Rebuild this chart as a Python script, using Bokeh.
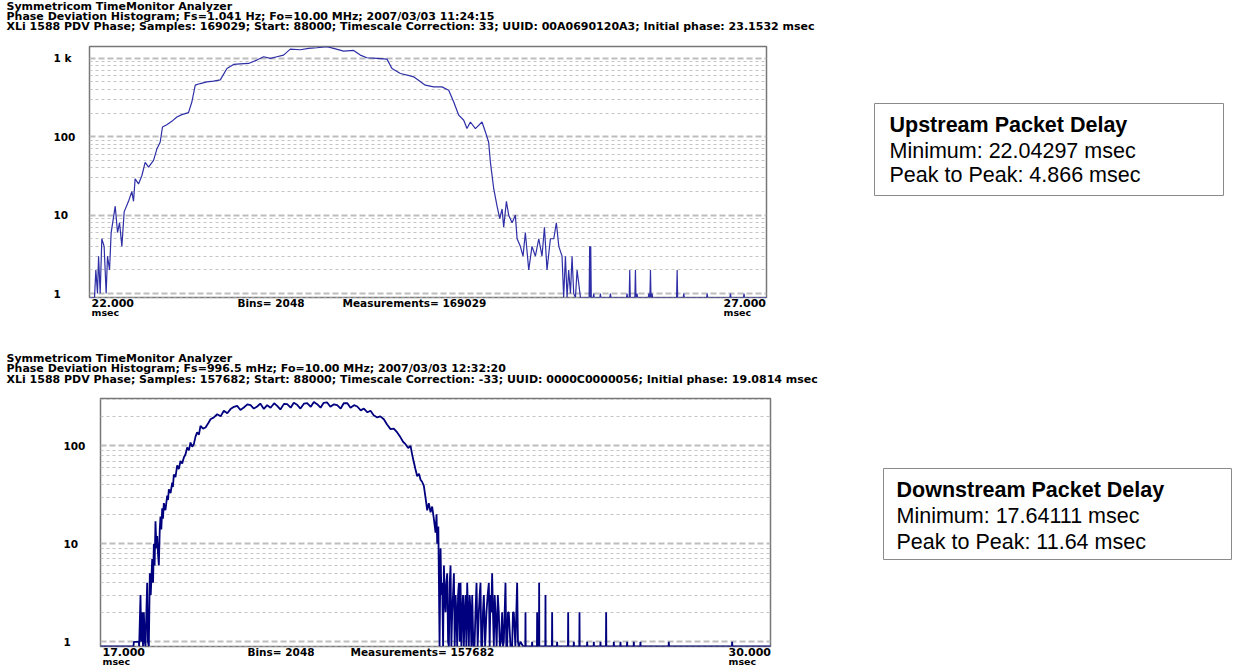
from bokeh.plotting import figure
from bokeh.models import Range1d, Grid, FixedTicker, ColumnDataSource
from bokeh.layouts import row, column
from bokeh.core.properties import value
from bokeh.embed import file_html
from bokeh.resources import INLINE
import numpy as np

# ---------------- data ----------------
up_header = [
    "Symmetricom TimeMonitor Analyzer",
    "Phase Deviation Histogram;  Fs=1.041 Hz; Fo=10.00 MHz; 2007/03/03  11:24:15",
    "XLi 1588 PDV Phase;  Samples: 169029;  Start: 88000;  Timescale Correction: 33;  UUID: 00A0690120A3;  Initial phase: 23.1532 msec",
]
dn_header = [
    "Symmetricom TimeMonitor Analyzer",
    "Phase Deviation Histogram;  Fs=996.5 mHz; Fo=10.00 MHz; 2007/03/03  12:32:20",
    "XLi 1588 PDV Phase;  Samples: 157682;  Start: 88000;  Timescale Correction: -33;  UUID: 0000C0000056;  Initial phase: 19.0814 msec",
]
up_range = [22.0, 27.0]
dn_range = [17.0, 30.0]
up_bins = "Bins= 2048"
up_meas = "Measurements= 169029"
dn_bins = "Bins= 2048"
dn_meas = "Measurements= 157682"
up_yticks = [1, 10, 100, 1000]
up_ytick_labels = ["1", "10", "100", "1 k"]
dn_yticks = [1, 10, 100]
dn_ytick_labels = ["1", "10", "100"]

up_box = ["Upstream Packet Delay", "Minimum: 22.04297 msec", "Peak to Peak: 4.866 msec"]
dn_box = ["Downstream Packet Delay", "Minimum: 17.64111 msec", "Peak to Peak: 11.64 msec"]

# upstream histogram: main body
up_ms = [22.000, 22.037, 22.047, 22.059, 22.067, 22.079, 22.091, 22.108, 22.123, 22.133,
         22.148, 22.160, 22.190, 22.207, 22.222, 22.239, 22.256, 22.288, 22.313, 22.325,
         22.337, 22.362, 22.387, 22.411, 22.436, 22.473, 22.498, 22.522, 22.539, 22.571,
         22.608, 22.645, 22.682, 22.731, 22.756, 22.781, 22.818, 22.867, 22.916, 22.966,
         23.015, 23.064, 23.113, 23.175, 23.236, 23.286, 23.335, 23.384, 23.433, 23.483,
         23.557, 23.618, 23.680, 23.754, 23.803, 23.877, 23.951, 24.000, 24.049, 24.123,
         24.197, 24.234, 24.296, 24.369, 24.394, 24.480, 24.542, 24.603, 24.653, 24.690,
         24.727, 24.764, 24.788, 24.813, 24.850, 24.899, 24.924, 24.948, 24.961, 24.985,
         25.010, 25.030, 25.047, 25.059, 25.079, 25.096, 25.121, 25.145, 25.158, 25.182,
         25.202, 25.219, 25.244, 25.268, 25.293, 25.318, 25.342, 25.360, 25.379, 25.404,
         25.429, 25.448, 25.466, 25.490, 25.502, 25.515, 25.527, 25.539, 25.552, 25.564,
         25.576, 25.589, 25.601]
up_counts = [0, 0, 2, 1, 3, 1, 5, 4, 1, 3,
             2, 6, 13, 6, 8, 4, 11, 15, 20, 15,
             29, 25, 32, 47, 41, 50, 70, 85, 133, 142,
             157, 178, 191, 203, 277, 454, 476, 500, 510, 530,
             741, 834, 850, 859, 948, 1045, 995, 1045, 1097, 1309,
             1284, 1336, 1362, 1403, 1336, 1236, 1260, 1097, 1015, 995,
             975, 741, 640, 597, 580, 454, 432, 432, 392, 277,
             188, 162, 127, 154, 127, 154, 115, 85, 47, 22,
             13, 9, 12, 7, 15, 10, 8, 10, 5, 4,
             3, 6, 2, 4, 3, 5, 3, 7, 2, 5,
             5, 8, 4, 3, 0, 3, 0, 2, 1, 3,
             1, 0, 2]
# upstream histogram: sparse tail (isolated bins)
up_tail_ms = [25.626, 25.690, 25.694, 25.698, 25.702, 25.706, 25.720, 25.724, 25.728, 25.770,
              25.773, 25.777, 25.843, 25.847, 25.851, 25.966, 25.970, 25.974, 25.986, 25.990,
              25.994, 26.028, 26.032, 26.036, 26.040, 26.044, 26.048, 26.127, 26.131, 26.135,
              26.139, 26.143, 26.147, 26.151, 26.155, 26.159, 26.336, 26.340, 26.344, 26.385,
              26.389, 26.393, 26.558, 26.562, 26.566, 26.730, 26.734, 26.738, 26.830, 26.834,
              26.838, 27.000]
up_tail_counts = [0, 0, 4, 0, 4, 0, 0, 1, 0, 0,
                  1, 0, 0, 1, 0, 0, 1, 0, 0, 2,
                  0, 0, 2, 0, 0, 1, 0, 0, 1, 0,
                  0, 2, 0, 0, 1, 0, 0, 2, 0, 0,
                  1, 0, 0, 1, 0, 0, 1, 0, 0, 1,
                  0, 0]

# downstream histogram: main body
dn_ms = [17.000, 17.640, 17.647, 17.744, 17.750, 17.776, 17.790, 17.809, 17.825, 17.841,
         17.860, 17.873, 17.890, 17.906, 17.920, 17.938, 17.957, 17.975, 18.003, 18.020,
         18.035, 18.050, 18.067, 18.085, 18.100, 18.115, 18.132, 18.150, 18.164, 18.180,
         18.197, 18.212, 18.229, 18.260, 18.294, 18.310, 18.326, 18.360, 18.391, 18.405,
         18.423, 18.455, 18.488, 18.520, 18.552, 18.585, 18.617, 18.650, 18.682, 18.715,
         18.746, 18.780, 18.811, 18.845, 18.876, 18.910, 18.940, 18.990, 19.038, 19.090,
         19.135, 19.200, 19.264, 19.330, 19.393, 19.460, 19.523, 19.590, 19.652, 19.715,
         19.781, 19.850, 19.911, 19.975, 20.040, 20.100, 20.170, 20.234, 20.300, 20.370,
         20.428, 20.490, 20.560, 20.622, 20.690, 20.750, 20.816, 20.880, 20.950, 21.010,
         21.080, 21.140, 21.204, 21.270, 21.330, 21.398, 21.460, 21.530, 21.593, 21.660,
         21.720, 21.787, 21.850, 21.920, 21.981, 22.050, 22.110, 22.180, 22.239, 22.300,
         22.369, 22.430, 22.498, 22.560, 22.627, 22.690, 22.757, 22.821, 22.870, 22.918,
         22.970, 23.016, 23.050, 23.080, 23.110, 23.145, 23.180, 23.210, 23.240, 23.274,
         23.305, 23.339, 23.370, 23.404, 23.435, 23.468, 23.501, 23.520, 23.533, 23.555,
         23.579, 23.598, 23.614, 23.630, 23.647, 23.663, 23.680, 23.695, 23.711, 23.727,
         23.744, 23.760, 23.776, 23.792, 23.808, 23.824, 23.840, 23.857, 23.873, 23.889,
         23.905, 23.921, 23.938, 23.954, 23.970, 23.986, 24.002, 24.018, 24.034, 24.050,
         24.066, 24.083, 24.099, 24.115, 24.131, 24.147, 24.163, 24.180, 24.196, 24.212,
         24.235, 24.257, 24.276, 24.296, 24.318, 24.341, 24.357, 24.373, 24.389, 24.405,
         24.421, 24.438, 24.463, 24.489, 24.512, 24.535, 24.551, 24.567, 24.583, 24.599,
         24.615, 24.632, 24.648, 24.664, 24.686, 24.709, 24.728, 24.748, 24.770, 24.793,
         24.810, 24.826, 24.842, 24.858, 24.874, 24.890, 24.906, 24.922, 24.955, 24.987,
         25.003, 25.019, 25.050, 25.084, 25.100, 25.116, 25.149]
dn_counts = [0, 0, 1, 1, 0, 3, 1, 2, 0, 2,
             1, 0, 2, 4, 1, 0, 5, 3, 7, 4,
             10, 6, 17, 9, 12, 8, 6, 14, 19, 14,
             23, 18, 26, 22, 31, 28, 36, 33, 42, 38,
             51, 48, 63, 58, 70, 66, 76, 82, 96, 90,
             108, 98, 104, 125, 137, 130, 160, 150, 154, 170,
             187, 195, 210, 200, 228, 215, 237, 250, 256, 232,
             246, 265, 260, 240, 252, 270, 238, 260, 245, 272,
             256, 235, 268, 266, 245, 275, 262, 240, 270, 273,
             250, 280, 266, 245, 275, 277, 250, 265, 260, 240,
             272, 273, 245, 260, 252, 230, 240, 220, 228, 205,
             195, 200, 187, 165, 148, 150, 137, 122, 110, 104,
             95, 100, 80, 68, 58, 49, 52, 45, 43, 39,
             30, 22, 26, 21, 24, 18, 13, 20, 10, 15,
             0, 9, 3, 4, 0, 6, 3, 2, 4, 5,
             1, 0, 4, 6, 0, 2, 3, 5, 0, 3,
             2, 0, 3, 4, 1, 4, 0, 2, 3, 0,
             2, 3, 0, 4, 2, 0, 3, 2, 0, 3,
             0, 0, 2, 4, 0, 2, 3, 4, 0, 0,
             2, 3, 0, 2, 3, 4, 0, 3, 2, 5,
             2, 0, 3, 2, 0, 3, 2, 0, 1, 2,
             0, 1, 2, 4, 0, 0, 2, 2, 0, 0,
             2, 2, 0, 4, 1, 0, 1]
# downstream histogram: sparse tail (isolated bins)
dn_tail_ms = [25.200, 25.242, 25.246, 25.250, 25.371, 25.375, 25.379, 25.468, 25.472, 25.476,
              25.507, 25.511, 25.515, 25.630, 25.634, 25.638, 25.759, 25.763, 25.767, 25.856,
              25.860, 25.864, 26.070, 26.074, 26.078, 26.180, 26.184, 26.188, 26.290, 26.294,
              26.298, 26.439, 26.443, 26.447, 26.568, 26.572, 26.576, 26.697, 26.701, 26.705,
              26.807, 26.811, 26.815, 26.956, 26.960, 26.964, 27.085, 27.089, 27.093, 27.214,
              27.218, 27.222, 27.344, 27.348, 27.352, 27.473, 27.477, 27.481, 28.023, 28.027,
              28.031, 29.252, 29.256, 29.260, 30.000]
dn_tail_counts = [0, 0, 2, 0, 0, 1, 0, 0, 2, 0,
                  0, 4, 0, 0, 3, 0, 0, 2, 0, 0,
                  1, 0, 0, 2, 0, 0, 1, 0, 0, 2,
                  0, 0, 1, 0, 0, 1, 0, 0, 1, 0,
                  0, 2, 0, 0, 1, 0, 0, 1, 0, 0,
                  1, 0, 0, 1, 0, 0, 1, 0, 0, 1,
                  0, 0, 1, 0, 0]

# ---------------- styling ----------------
HDR_FONT = "DejaVu Sans"
AX_FONT = "DejaVu Sans"
BOX_FONT = "Liberation Sans"


def minor_between(decades):
    out = []
    for d in decades:
        out += [d * k for k in range(2, 10)]
    return out


def otext(p, x, y, text, dx, dy, size, font, bold=True, align="left", baseline="middle"):
    # free-standing text drawn at overlay level (not clipped to the frame)
    p.text(x=[x], y=[y], text=[text], x_offset=dx, y_offset=dy, level="overlay",
           text_font=value(font), text_font_size=value(size),
           text_font_style="bold" if bold else "normal", text_color="black",
           text_align=align, text_baseline=baseline)


def chart(width, height, bl, br, bt, bb, xr, ylog, ms, counts, color, lw,
          header, hdr_dy, ytick_vals, ytick_labels, ytick_dx,
          bins, meas, bins_dx, meas_dx, right_dx):
    y0, y1 = 10 ** ylog[0], 10 ** ylog[1]
    p = figure(width=width, height=height, x_range=Range1d(*xr), y_range=Range1d(y0, y1),
               y_axis_type="log", x_axis_location=None, y_axis_location=None,
               toolbar_location=None, output_backend="svg",
               min_border_left=bl, min_border_right=br, min_border_top=bt, min_border_bottom=bb)
    p.title = None
    p.grid.visible = False
    p.outline_line_color = "#777777"
    p.outline_line_width = 1.5
    decades = [10 ** k for k in range(-1, 4)]
    g = Grid(dimension=1, ticker=FixedTicker(ticks=decades, minor_ticks=minor_between(decades)),
             grid_line_color="#bdbdbd", grid_line_width=2, grid_line_dash="6 3",
             minor_grid_line_color="#c4c4c4", minor_grid_line_width=1, minor_grid_line_dash="3 3")
    p.add_layout(g)
    c = np.asarray(counts, dtype=float)
    src = ColumnDataSource(dict(ms=ms, cy=np.where(c > 0, c, y0)))
    p.line(x="ms", y="cy", source=src, line_color=color, line_width=lw)

    left_x = 6 - bl  # header starts at page x 6
    for t, dy in zip(header, hdr_dy):
        otext(p, xr[0], y1, t, left_x, dy, "11px", HDR_FONT)
    for v, t in zip(ytick_vals, ytick_labels):
        otext(p, xr[0], v, t, ytick_dx, 0, "10.5px", AX_FONT)
    otext(p, xr[0], y0, f"{xr[0]:.3f}", 2, 5, "11px", AX_FONT)
    otext(p, xr[0], y0, "msec", 2, 15, "9.5px", AX_FONT)
    otext(p, xr[1], y0, f"{xr[1]:.3f}", right_dx, 5, "11px", AX_FONT)
    otext(p, xr[1], y0, "msec", right_dx, 15, "9.5px", AX_FONT)
    otext(p, xr[0], y0, bins, bins_dx, 5, "10.5px", AX_FONT)
    otext(p, xr[0], y0, meas, meas_dx, 5, "10.5px", AX_FONT)
    return p


def info_box(width, height, bl, br, bt, bb, lines, tx, base_dy):
    p = figure(width=width, height=height, x_range=Range1d(0, 1), y_range=Range1d(0, 1),
               x_axis_location=None, y_axis_location=None, toolbar_location=None,
               output_backend="svg", min_border_left=bl, min_border_right=br,
               min_border_top=bt, min_border_bottom=bb)
    p.title = None
    p.grid.visible = False
    p.outline_line_color = "#8a8a8a"
    p.outline_line_width = 1
    for i, (t, dy) in enumerate(zip(lines, base_dy)):
        otext(p, 0, 1, t, tx, dy, "21.5px", BOX_FONT, bold=(i == 0), baseline="alphabetic")
    return p


top = chart(866, 340, 89, 100, 46, 43, up_range, (-0.05, 3.15),
            up_ms + up_tail_ms, up_counts + up_tail_counts,
            "#2e2ea6", 1.2, up_header, [-40, -30, -20], up_yticks, up_ytick_labels, -36,
            up_bins, up_meas, 148, 253, -43)
bot = chart(866, 328, 100, 96, 58, 22, dn_range, (-0.048, 2.483),
            dn_ms + dn_tail_ms, dn_counts + dn_tail_counts,
            "#00007f", 1.8, dn_header, [-40, -30, -19], dn_yticks, dn_ytick_labels, -37,
            dn_bins, dn_meas, 147, 250, -42)
box1 = info_box(367, 340, 8, 10, 103, 145, up_box, 15, [21, 47, 71])
box2 = info_box(367, 328, 17, 2, 128, 109, dn_box, 13, [21, 47, 73])

layout = column(row(column(top), column(box1)), row(column(bot), column(box2)))
open("out.html", "w").write(file_html(layout, INLINE))
